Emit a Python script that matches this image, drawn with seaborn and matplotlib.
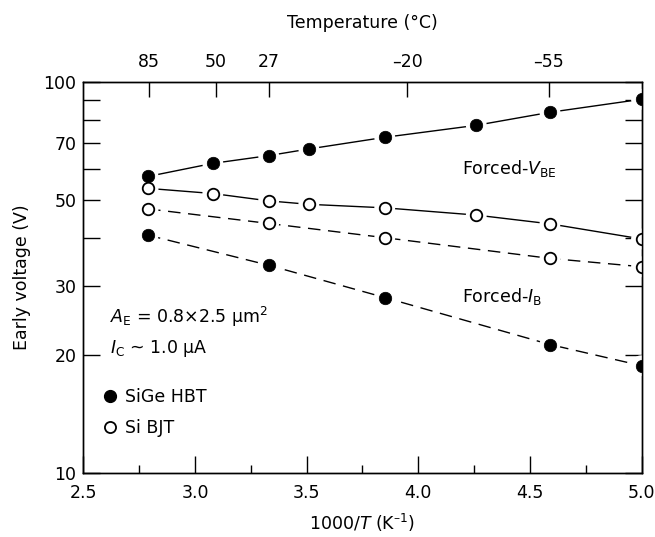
import numpy as np
import pandas as pd
import matplotlib
matplotlib.use("Agg")
import matplotlib.pyplot as plt
import seaborn as sns
from matplotlib.ticker import FixedLocator, FixedFormatter, NullLocator, MultipleLocator
from matplotlib.lines import Line2D

# ---------------- data ----------------
inv_T_vbe = [2.79, 3.08, 3.33, 3.51, 3.85, 4.26, 4.59, 5.0]
sige_vbe = [57.4, 62.0, 64.9, 67.5, 72.3, 77.6, 83.8, 90.5]
si_vbe = [53.5, 51.9, 49.7, 48.7, 47.7, 45.7, 43.4, 39.7]

inv_T_ib = [2.79, 3.33, 3.85, 4.59, 5.0]
si_ib = [47.4, 43.5, 40.0, 35.4, 33.7]
sige_ib = [40.6, 34.0, 28.1, 21.3, 18.8]

temps_c = [85, 50, 27, -20, -55]
temp_labels = ["85", "50", "27", "\u201320", "\u201355"]
y_ticks = [10, 20, 30, 40, 50, 60, 70, 80, 90, 100]
y_labels = ["10", "20", "30", "", "50", "", "70", "", "", "100"]
x_ticks = [2.5, 3.0, 3.5, 4.0, 4.5, 5.0]
x_labels = ["2.5", "3.0", "3.5", "4.0", "4.5", "5.0"]
legend_labels = ["SiGe HBT", "Si BJT"]

# ---------------- style ----------------
sns.set_style("ticks")
plt.rcParams["font.family"] = ["DejaVu Sans"]
plt.rcParams["mathtext.fontset"] = "dejavusans"
for k in ["text.color", "axes.labelcolor", "xtick.color", "ytick.color",
          "axes.edgecolor"]:
    plt.rcParams[k] = "black"
FS = 12.5

fig = plt.figure(figsize=(6.55, 5.37), dpi=100)
ax = fig.add_axes([0.1272, 0.1197, 0.8522, 0.727])

dash = (0, (9, 5.5))
series = [
    (inv_T_vbe, sige_vbe, True, "-"),
    (inv_T_vbe, si_vbe, False, "-"),
    (inv_T_ib, si_ib, False, dash),
    (inv_T_ib, sige_ib, True, dash),
]

for xs, ys, filled, ls in series:
    sns.lineplot(x=xs, y=ys, ax=ax, color="black", lw=1.0, linestyle=ls,
                 errorbar=None, zorder=2)
for xs, ys, filled, ls in series:
    sns.scatterplot(x=xs, y=ys, ax=ax, s=15 ** 2, color="white",
                    edgecolor="none", linewidth=0, zorder=3)
for xs, ys, filled, ls in series:
    if filled:
        sns.scatterplot(x=xs, y=ys, ax=ax, s=9 ** 2, color="black",
                        edgecolor="black", linewidth=0.5, zorder=4)
    else:
        sns.scatterplot(x=xs, y=ys, ax=ax, s=8.3 ** 2, color="white",
                        edgecolor="black", linewidth=1.3, zorder=4)

ax.set_yscale("log")
ax.set_ylim(10, 100)
ax.set_xlim(2.5, 5.0)
ax.yaxis.set_major_locator(FixedLocator(y_ticks))
ax.yaxis.set_major_formatter(FixedFormatter(y_labels))
ax.yaxis.set_minor_locator(NullLocator())
ax.xaxis.set_major_locator(FixedLocator(x_ticks))
ax.xaxis.set_major_formatter(FixedFormatter(x_labels))
ax.xaxis.set_minor_locator(MultipleLocator(0.25))

ax.tick_params(axis="both", which="major", direction="in", length=12,
               width=1.0, labelsize=FS, color="black", labelcolor="black")
ax.tick_params(axis="x", which="major", pad=8, top=False)
ax.tick_params(axis="x", which="minor", direction="in", length=6, width=1.0,
               top=False, color="black")
ax.tick_params(axis="y", which="major", right=True, pad=5)
for sp in ax.spines.values():
    sp.set_linewidth(1.0)
    sp.set_color("black")
    sp.set_visible(True)

ax.set_xlabel("1000/$\\mathit{T}$ (K$^{\u2013\\mathregular{1}}$)", fontsize=FS,
              labelpad=7, color="black")
ax.set_ylabel("Early voltage (V)", fontsize=FS, labelpad=9, color="black")

# top temperature axis
ax2 = ax.twiny()
ax2.set_xlim(ax.get_xlim())
ax2.xaxis.set_major_locator(FixedLocator([1000.0 / (t + 273.15) for t in temps_c]))
ax2.xaxis.set_major_formatter(FixedFormatter(temp_labels))
ax2.xaxis.set_minor_locator(NullLocator())
ax2.tick_params(axis="x", which="major", direction="in", length=11,
                width=1.0, labelsize=FS, pad=8, color="black", labelcolor="black")
ax2.set_xlabel("Temperature (\u00b0C)", fontsize=FS, labelpad=18, color="black")
for sp in ax2.spines.values():
    sp.set_linewidth(1.0)
    sp.set_color("black")

# annotations
ax.text(4.195, 60.2, "Forced-$\\mathit{V}_{\\mathrm{BE}}$", fontsize=FS,
        va="center", ha="left")
ax.text(4.195, 28.2, "Forced-$\\mathit{I}_{\\mathrm{B}}$", fontsize=FS,
        va="center", ha="left")
ax.text(2.62, 25.0, "$\\mathit{A}_{\\mathrm{E}}$ = 0.8\u00d72.5 \u03bcm$^{2}$",
        fontsize=FS, va="center", ha="left")
ax.text(2.62, 20.8, "$\\mathit{I}_{\\mathrm{C}}$ ~ 1.0 \u03bcA",
        fontsize=FS, va="center", ha="left")

handles = [
    Line2D([], [], marker="o", ls="none", color="black", ms=8.5),
    Line2D([], [], marker="o", ls="none", mfc="white", mec="black", mew=1.3, ms=8.0),
]
leg = ax.legend(handles, legend_labels, loc="upper left",
                bbox_to_anchor=(0.032, 0.216), frameon=False, fontsize=FS,
                handlelength=1.0, handletextpad=0.4, labelspacing=0.75,
                borderaxespad=0, borderpad=0)
for t in leg.get_texts():
    t.set_color("black")

fig.savefig("out.png", dpi=100)
